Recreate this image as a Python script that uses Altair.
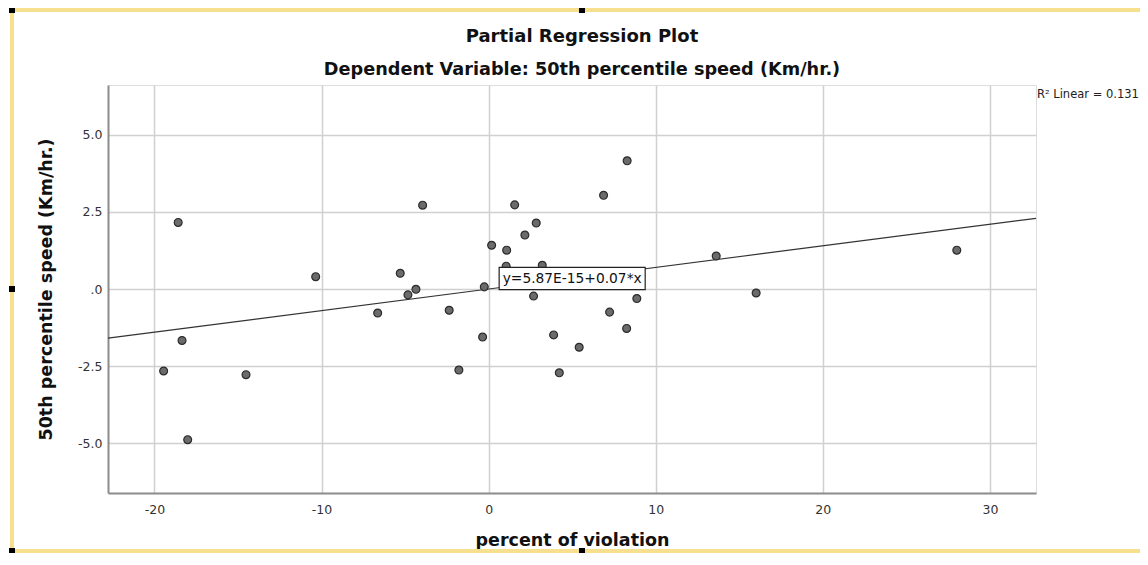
import altair as alt
import pandas as pd

# ---- data ----
violation = [-18.58, -19.45, -18.35, -18.01, -14.52, -10.35, -6.64, -5.29, -4.83, -4.35,
             -3.95, -2.36, -1.78, -0.36, -0.26, 0.18, 1.08, 1.05, 1.56, 2.17,
             2.85, 2.69, 3.21, 3.89, 4.23, 5.42, 6.88, 7.24, 8.29, 8.26,
             8.87, 13.62, 16.01, 28.02]
speed = [2.16, -2.66, -1.67, -4.89, -2.78, 0.40, -0.78, 0.51, -0.19, -0.01,
         2.72, -0.69, -2.63, -1.56, 0.07, 1.42, 1.26, 0.74, 2.73, 1.75,
         2.14, -0.23, 0.77, -1.49, -2.72, -1.89, 3.04, -0.75, 4.16, -1.28,
         -0.31, 1.07, -0.13, 1.26]
x_ticks = [-20, -10, 0, 10, 20, 30]
y_ticks = [-5.0, -2.5, 0.0, 2.5, 5.0]
x_domain = [-22.78, 32.76]
y_domain = [-6.62, 6.62]
intercept = 5.87e-15
slope = 0.07
eq_text = "y=5.87E-15+0.07*x"
eq_box = {"x": [0.63], "x2": [9.37], "y": [0.70], "y2": [-0.02]}
eq_anchor = {"x": [0.84], "y": [0.32]}
r2_text = "R\u00b2 Linear = 0.131"

pts = pd.DataFrame({"v": violation, "s": speed})
fit = pd.DataFrame({"v": x_domain, "s": [intercept + slope * v for v in x_domain]})
box = pd.DataFrame(eq_box)
lab = pd.DataFrame({**eq_anchor, "t": [eq_text]})

xs = alt.Scale(domain=x_domain, nice=False, zero=False)
ys = alt.Scale(domain=y_domain, nice=False, zero=False)

x_axis = alt.Axis(values=x_ticks, title="percent of violation", grid=True,
                  gridColor="#d0d0d0", gridWidth=1.5, domainColor="#8c8c8c", domainWidth=2,
                  ticks=False, tickSize=0, labelFont="DejaVu Sans", labelFontSize=12.5,
                  labelColor="#333333", labelPadding=10,
                  labelExpr="datum.value < 0 ? '-' + format(-datum.value, 'd') : format(datum.value, 'd')",
                  titleFont="DejaVu Sans",
                  titleFontSize=17.5, titleFontWeight="bold", titleColor="#111111",
                  titleY=47, titleBaseline="middle")
y_axis = alt.Axis(values=y_ticks, title="50th percentile speed (Km/hr.)", grid=True,
                  gridColor="#d0d0d0", gridWidth=1.5, domainColor="#8c8c8c", domainWidth=2,
                  ticks=False, tickSize=0, labelFont="DejaVu Sans", labelFontSize=12.5,
                  labelColor="#333333", labelPadding=6,
                  labelExpr="datum.value == 0 ? '.0' : (datum.value < 0 ? '-' + format(-datum.value, '.1f') : format(datum.value, '.1f'))",
                  titleFont="DejaVu Sans", titleFontSize=17.5, titleFontWeight="bold",
                  titleColor="#111111", titleX=-62, titleY=204, titleAngle=270,
                  titleAlign="center", titleBaseline="middle")

line = alt.Chart(fit).mark_line(color="#333333", strokeWidth=1.2).encode(
    x=alt.X("v:Q", scale=xs, axis=x_axis),
    y=alt.Y("s:Q", scale=ys, axis=y_axis),
)
points = alt.Chart(pts).mark_circle(size=62, color="#6b6b6b", stroke="#2b2b2b",
                                    strokeWidth=1.2, opacity=1).encode(
    x=alt.X("v:Q", scale=xs), y=alt.Y("s:Q", scale=ys))
rect = alt.Chart(box).mark_rect(fill="white", stroke="#222222", strokeWidth=1.2).encode(
    x=alt.X("x:Q", scale=xs), x2="x2:Q", y=alt.Y("y:Q", scale=ys), y2="y2:Q")
eq = alt.Chart(lab).mark_text(align="left", baseline="middle", font="DejaVu Sans",
                              fontSize=13.8, color="#111111").encode(
    x=alt.X("x:Q", scale=xs), y=alt.Y("y:Q", scale=ys), text="t:N")
r2 = alt.Chart(pd.DataFrame({"t": [r2_text]})).mark_text(
    align="left", baseline="alphabetic", font="DejaVu Sans", fontSize=11.5,
    color="#222222").encode(x=alt.value(929), y=alt.value(13), text="t:N")

# decorative frame of the chart object (yellow selection border with handles)
frame_col = "#f6e08e"
frame = [
    alt.Chart(pts).mark_rule(color=frame_col, strokeWidth=3).encode(
        x=alt.value(-96), x2=alt.value(1032), y=alt.value(-75)),
    alt.Chart(pts).mark_rule(color=frame_col, strokeWidth=3).encode(
        x=alt.value(-96), y=alt.value(-75), y2=alt.value(466)),
    alt.Chart(pts).mark_rule(color=frame_col, strokeWidth=3).encode(
        x=alt.value(-96), x2=alt.value(1032), y=alt.value(466)),
]
handles = [(-96, -75), (474, -75), (-96, 204), (474, 466), (-96, 466)]
for hx, hy in handles:
    frame.append(alt.Chart(pts).mark_square(size=28, color="black", opacity=1).encode(
        x=alt.value(hx), y=alt.value(hy)))

chart = alt.layer(*frame, line, points, rect, eq, r2).properties(
    width=928, height=408,
    autosize=alt.AutoSizeParams(type="none"),
    padding={"left": 100, "top": 77, "right": 104, "bottom": 60},
    title=alt.TitleParams(
        text="Partial Regression Plot",
        subtitle="Dependent Variable: 50th percentile speed (Km/hr.)",
        font="DejaVu Sans", fontSize=18, fontWeight="bold", color="#111111",
        subtitleFont="DejaVu Sans", subtitleFontSize=17.7, subtitleFontWeight="bold",
        subtitleColor="#111111", anchor="middle", frame="group", dx=10, dy=77,
        offset=6, subtitlePadding=15),
).configure_view(stroke="transparent").configure(background="white")

chart.save("out.html", embed_options={"renderer": "svg", "actions": False})
